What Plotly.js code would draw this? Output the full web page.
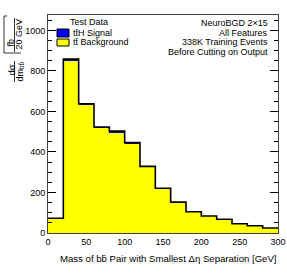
<!DOCTYPE html>
<html>
<head>
<meta charset="utf-8">
<script src="https://cdn.plot.ly/plotly-3.0.1.min.js"></script>
<style>html,body{margin:0;padding:0;background:#fff;}#chart{width:287px;height:273px;}</style>
</head>
<body>
<div id="chart"></div>
<script>
// Bin edges (GeV) and per-bin values (fb / 20 GeV)
const binEdges = [0,20,40,60,80,100,120,140,160,180,200,220,240,260,280,300];
const backgroundValues = [72, 851, 632, 516, 495, 440, 324, 217, 150, 103, 82, 67, 45, 35, 24];
const signalValues     = [1, 7, 6, 7, 8, 6, 5, 4, 3, 2, 2, 1, 1, 1, 1];
const yTickValues = [0, 200, 400, 600, 800, 1000];
const xTickValues = [0, 50, 100, 150, 200, 250, 300];

const centers = binEdges.slice(0, -1).map((e, i) => (e + binEdges[i + 1]) / 2);
const widths = binEdges.slice(0, -1).map((e, i) => binEdges[i + 1] - e);
const totals = backgroundValues.map((b, i) => b + signalValues[i]);
const stepY = totals.concat([totals[totals.length - 1]]);

const FONT = 'Liberation Sans, Arial, sans-serif';
const FS = 9;

const traces = [
  {type: 'bar', x: centers, y: backgroundValues, width: widths, name: 'tt̄ Background',
   marker: {color: '#ffff00', line: {width: 0}}, showlegend: false, hoverinfo: 'skip'},
  {type: 'bar', x: centers, y: signalValues, width: widths, name: 'tt̄H Signal',
   marker: {color: '#0000cc', line: {width: 0}}, showlegend: false, hoverinfo: 'skip'},
  {type: 'scatter', mode: 'lines', x: binEdges, y: stepY, line: {shape: 'hv', color: '#000', width: 1.6},
   showlegend: false, hoverinfo: 'skip'}
];

// pixel -> paper helpers for decorations
const L = 48, R = 278, T = 15, B = 233;
const px = x => (x - L) / (R - L);
const py = y => (B - y) / (B - T);

function note(text, x, y, xanchor, extra) {
  return Object.assign({text: text, x: px(x), y: py(y), xref: 'paper', yref: 'paper', showarrow: false,
    xanchor: xanchor, yanchor: 'middle', borderpad: 0, font: {family: FONT, size: FS, color: '#000'}}, extra || {});
}

const annotations = [
  note('Test Data', 89, 22, 'center'),
  note('tt̄H Signal', 72, 32.5, 'left'),
  note('tt̄ Background', 72, 42.5, 'left'),
  note('NeuroBGD 2×15', 269, 23, 'right'),
  note('All Features', 269, 32.5, 'right'),
  note('338K Training Events', 269, 42, 'right'),
  note('Before Cutting on Output', 269, 51.5, 'right'),
  // x-axis title
  note('Mass of bb̄ Pair with Smallest Δη Separation [GeV]', 168, 258.5, 'center', {font: {family: FONT, size: 9.6, color: '#000'}}),
  // y-axis title pieces (rotated)
  note('fb', 10.5, 43, 'center', {textangle: -90}),
  note('20 GeV', 18.5, 34, 'center', {textangle: -90}),
  note('dσ', 10.5, 70, 'center', {textangle: -90, font: {family: FONT, size: 9.5, color: '#000'}}),
  note('dm<sub>bb̄</sub>', 19.5, 72, 'center', {textangle: -90})
];

const lineStyle = {color: '#000', width: 0.8};
const shapes = [
  // legend boxes
  {type: 'rect', xref: 'paper', yref: 'paper', x0: px(57), x1: px(69), y0: py(37), y1: py(29), fillcolor: '#0000ff', line: {color: '#000', width: 1}},
  {type: 'rect', xref: 'paper', yref: 'paper', x0: px(57), x1: px(69), y0: py(46), y1: py(39), fillcolor: '#ffff00', line: {color: '#000', width: 1}},
  // fraction lines of y title
  {type: 'line', xref: 'paper', yref: 'paper', x0: px(14.5), x1: px(14.5), y0: py(52), y1: py(18), line: lineStyle},
  {type: 'line', xref: 'paper', yref: 'paper', x0: px(14.5), x1: px(14.5), y0: py(82), y1: py(61), line: lineStyle},
  // bracket
  {type: 'line', xref: 'paper', yref: 'paper', x0: px(4), x1: px(4), y0: py(53), y1: py(16), line: lineStyle},
  {type: 'line', xref: 'paper', yref: 'paper', x0: px(4), x1: px(21), y0: py(53), y1: py(53), line: lineStyle},
  {type: 'line', xref: 'paper', yref: 'paper', x0: px(4), x1: px(7), y0: py(16), y1: py(16), line: lineStyle}
];

const layout = {
  width: 287, height: 273,
  margin: {l: L, r: 287 - R, t: T, b: 273 - B},
  paper_bgcolor: '#fff', plot_bgcolor: '#fff',
  barmode: 'stack', bargap: 0,
  showlegend: false,
  font: {family: FONT, size: FS, color: '#000'},
  xaxis: {
    range: [0, 300], tickvals: xTickValues, ticktext: xTickValues.map(String),
    ticks: 'inside', ticklen: 7, tickcolor: '#000', layer: 'below traces',
    showline: true, linecolor: '#444', linewidth: 1, mirror: true,
    showgrid: false, zeroline: false,
    tickfont: {family: FONT, size: FS, color: '#000'}
  },
  yaxis: {
    range: [0, 1076], tickvals: yTickValues, ticktext: yTickValues.map(String),
    ticks: 'inside', ticklen: 8, tickcolor: '#000',
    minor: {dtick: 50, ticks: 'inside', ticklen: 4, tickcolor: '#000', showgrid: false},
    showline: true, linecolor: '#444', linewidth: 1, mirror: 'ticks',
    showgrid: false, zeroline: false,
    tickfont: {family: FONT, size: FS, color: '#000'}
  },
  annotations: annotations,
  shapes: shapes
};

Plotly.newPlot('chart', traces, layout, {staticPlot: true, displayModeBar: false});
</script>
</body>
</html>
